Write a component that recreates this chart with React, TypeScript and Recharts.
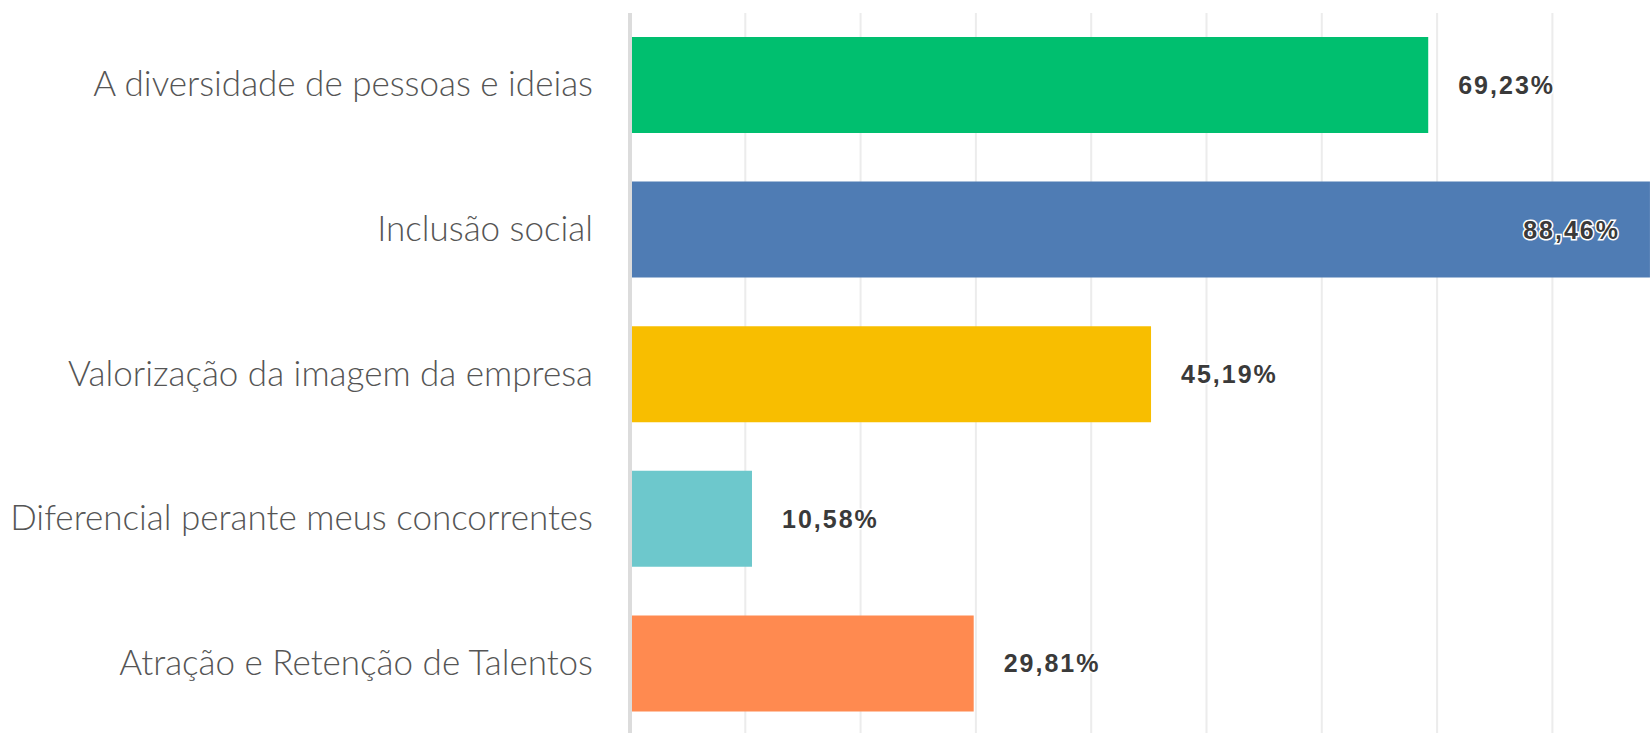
import { BarChart, Bar, XAxis, YAxis, CartesianGrid, Cell, LabelList } from 'recharts';

const categories = [
  'A diversidade de pessoas e ideias',
  'Inclusão social',
  'Valorização da imagem da empresa',
  'Diferencial perante meus concorrentes',
  'Atração e Retenção de Talentos',
];
const values = [69.23, 88.46, 45.19, 10.58, 29.81];
const colors = ['#00bf6f', '#4f7cb4', '#f8be00', '#6dc8cc', '#ff8a50'];
const xTicks = [0, 10, 20, 30, 40, 50, 60, 70, 80, 90, 100];

const data = categories.map((name, i) => ({ name, value: values[i] }));

const fmt = (v: number) => v.toFixed(2).replace('.', ',') + '%';

function CategoryTick(props: any) {
  const { x, y, payload } = props;
  return (
    <text
      x={x - 29}
      y={y - 3}
      textAnchor="end"
      dominantBaseline="central"
      fontFamily="Lato, 'Open Sans', sans-serif"
      fontWeight={300}
      fontSize={35}
      fill="#555555"
    >
      {payload.value}
    </text>
  );
}

function ValueLabel(props: any) {
  const { x, y, width, height, value } = props;
  const inside = value > 80;
  return (
    <text
      x={inside ? x + width - 30 : x + width + 30}
      y={y + height / 2}
      textAnchor={inside ? 'end' : 'start'}
      dominantBaseline="central"
      fontFamily="'Liberation Sans', Arial, sans-serif"
      fontWeight={600}
      fontSize={25}
      letterSpacing={2}
      fill="#3a3a3a"
      stroke="#ffffff"
      strokeWidth={3}
      paintOrder="stroke"
    >
      {fmt(value)}
    </text>
  );
}

export default function App() {
  return (
    <div style={{ position: 'absolute', left: 0, top: 0, width: 1652, height: 733, overflow: 'hidden', background: '#fff' }}>
      <BarChart
        width={1783}
        height={736}
        data={data}
        layout="vertical"
        margin={{ top: 13, right: 0, bottom: 0, left: 0 }}
      >
        <CartesianGrid horizontal={false} stroke="#ececec" strokeWidth={2} />
        <XAxis type="number" domain={[0, 100]} ticks={xTicks} hide />
        <YAxis
          type="category"
          dataKey="name"
          width={630}
          axisLine={{ stroke: '#dcdcdc', strokeWidth: 4 }}
          tickLine={false}
          tick={<CategoryTick />}
        />
        <Bar dataKey="value" barSize={96} isAnimationActive={false}>
          {data.map((d, i) => (
            <Cell key={d.name} fill={colors[i]} />
          ))}
          <LabelList dataKey="value" content={<ValueLabel />} />
        </Bar>
      </BarChart>
    </div>
  );
}
